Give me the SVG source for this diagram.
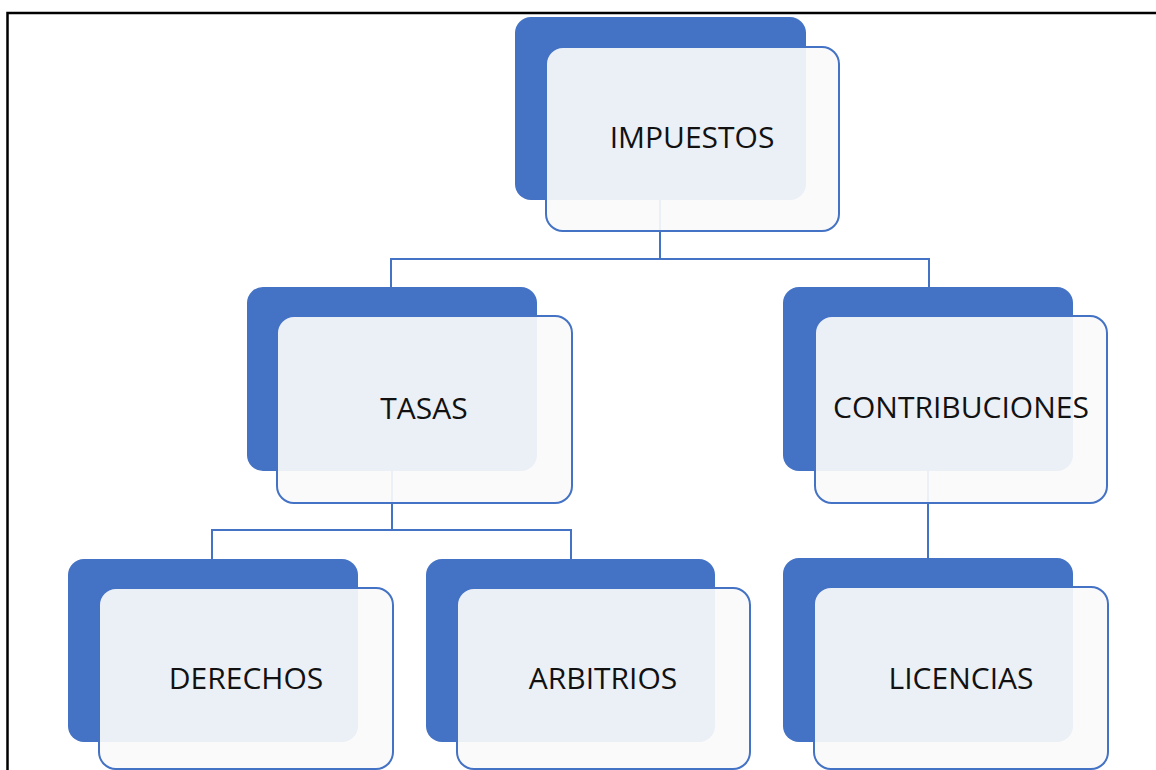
<svg xmlns="http://www.w3.org/2000/svg" width="1156" height="770" viewBox="0 0 1156 770">
  <style>
    .back { fill: #4472c4; }
    .front { fill: #fafafa; fill-opacity: 0.92; stroke: #4472c4; stroke-width: 2; }
    .lbl { font-family: "Open Sans", "Liberation Sans", sans-serif; font-size: 30px; fill: #111111; text-anchor: middle; }
    .conn { fill: none; stroke: #4472c4; stroke-width: 2; }
  </style>
  <rect x="0" y="0" width="1156" height="770" fill="#ffffff"/>
  <path d="M7.5 770 V13 H1156" fill="none" stroke="#000000" stroke-width="2.5"/>
  <g id="connectors">
    <path class="conn" d="M660 200 V259 M391 287 V259 H929 V287"/>
    <path class="conn" d="M392 471 V530 M212 559 V530 H571 V559"/>
    <path class="conn" d="M928 471 V558"/>
  </g>
  <g id="impuestos">
    <rect class="back" x="515" y="17" width="291" height="183" rx="16"/>
    <rect class="front" x="546" y="47" width="293" height="184" rx="17"/>
    <text class="lbl" x="692" y="148">IMPUESTOS</text>
  </g>
  <g id="tasas">
    <rect class="back" x="247" y="287" width="290" height="184" rx="16"/>
    <rect class="front" x="277" y="316" width="295" height="187" rx="17"/>
    <text class="lbl" x="424" y="419">TASAS</text>
  </g>
  <g id="contribuciones">
    <rect class="back" x="783" y="287" width="290" height="184" rx="16"/>
    <rect class="front" x="815" y="316" width="292" height="187" rx="17"/>
    <text class="lbl" x="961" y="418">CONTRIBUCIONES</text>
  </g>
  <g id="derechos">
    <rect class="back" x="68" y="559" width="290" height="183" rx="16"/>
    <rect class="front" x="99" y="588" width="294" height="181" rx="17"/>
    <text class="lbl" x="246" y="689">DERECHOS</text>
  </g>
  <g id="arbitrios">
    <rect class="back" x="426" y="559" width="289" height="183" rx="16"/>
    <rect class="front" x="457" y="588" width="293" height="181" rx="17"/>
    <text class="lbl" x="603" y="689">ARBITRIOS</text>
  </g>
  <g id="licencias">
    <rect class="back" x="783" y="558" width="290" height="184" rx="16"/>
    <rect class="front" x="814" y="587" width="294" height="182" rx="17"/>
    <text class="lbl" x="961" y="689">LICENCIAS</text>
  </g>
</svg>
